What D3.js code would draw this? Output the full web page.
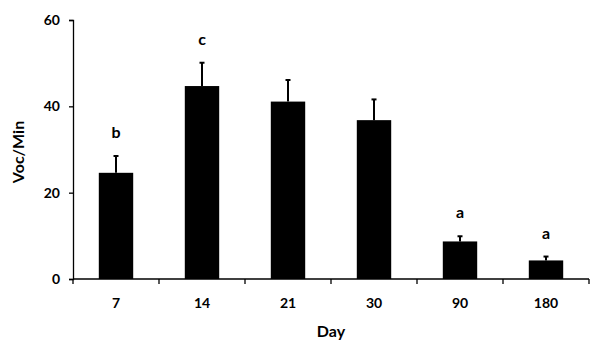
<!DOCTYPE html>
<html>
<head>
<meta charset="utf-8">
<script src="https://cdn.jsdelivr.net/npm/d3@7"></script>
<style>
  body { margin: 0; background: #fff; }
  svg text { font-family: Lato, "Open Sans", sans-serif; font-weight: bold; fill: #000; }
</style>
</head>
<body>
<div id="chart"></div>
<script>
const width = 600;
const height = 348;
const margin = { top: 20, right: 11, bottom: 69, left: 73 };

// Data
const days = ["7", "14", "21", "30", "90", "180"];
const means = [24.6, 44.7, 41.1, 36.8, 8.7, 4.3];
const errors = [3.9, 5.4, 5.0, 4.8, 1.2, 0.9];
const letters = ["b", "c", "", "", "a", "a"];
const yTicks = [0, 20, 40, 60];

const innerW = width - margin.left - margin.right;
const innerH = height - margin.top - margin.bottom;

const svg = d3
  .select("#chart")
  .append("svg")
  .attr("width", width)
  .attr("height", height);

const g = svg.append("g").attr("transform", `translate(${margin.left},${margin.top})`);

const x = d3.scaleBand().domain(days).range([0, innerW]).paddingInner(0.6).paddingOuter(0.3);
const y = d3.scaleLinear().domain([0, 60]).range([innerH, 0]);

// bars
g.selectAll(".bar")
  .data(means)
  .enter()
  .append("rect")
  .attr("class", "bar")
  .attr("x", (d, i) => x(days[i]))
  .attr("y", (d) => y(d))
  .attr("width", x.bandwidth())
  .attr("height", (d) => innerH - y(d))
  .attr("fill", "#000");

// error bars (upper only)
const cx = (i) => x(days[i]) + x.bandwidth() / 2;
g.selectAll(".err")
  .data(means)
  .enter()
  .append("line")
  .attr("x1", (d, i) => cx(i))
  .attr("x2", (d, i) => cx(i))
  .attr("y1", (d) => y(d))
  .attr("y2", (d, i) => y(d + errors[i]))
  .attr("stroke", "#000")
  .attr("stroke-width", 2);

g.selectAll(".cap")
  .data(means)
  .enter()
  .append("line")
  .attr("x1", (d, i) => cx(i) - 2.5)
  .attr("x2", (d, i) => cx(i) + 2.5)
  .attr("y1", (d, i) => y(d + errors[i]))
  .attr("y2", (d, i) => y(d + errors[i]))
  .attr("stroke", "#000")
  .attr("stroke-width", 2);

// significance letters
g.selectAll(".letter")
  .data(means)
  .enter()
  .append("text")
  .attr("x", (d, i) => cx(i))
  .attr("y", (d, i) => y(d + errors[i]) - 18)
  .attr("text-anchor", "middle")
  .style("font-size", "16px")
  .text((d, i) => letters[i]);

// y axis
const yAxis = g.append("g")
  .call(d3.axisLeft(y).tickValues(yTicks).tickSize(4).tickPadding(9));
yAxis.select(".domain").attr("stroke", "#000").attr("stroke-width", 1.3);
yAxis.selectAll(".tick line").attr("stroke", "#000").attr("stroke-width", 1.3);
yAxis.selectAll("text").style("font-size", "14px");

// x axis: ticks at band boundaries, labels centred on bars
const step = x.step();
const xAxisG = g.append("g").attr("transform", `translate(0,${innerH})`);
xAxisG.append("line")
  .attr("x1", 0).attr("x2", innerW)
  .attr("stroke", "#000").attr("stroke-width", 1.3);
xAxisG.selectAll(".xt")
  .data(d3.range(days.length + 1))
  .enter()
  .append("line")
  .attr("x1", (d) => d * step)
  .attr("x2", (d) => d * step)
  .attr("y1", 0).attr("y2", 5)
  .attr("stroke", "#000").attr("stroke-width", 1.3);
xAxisG.selectAll(".xl")
  .data(days)
  .enter()
  .append("text")
  .attr("x", (d) => x(d) + x.bandwidth() / 2)
  .attr("y", 29)
  .attr("text-anchor", "middle")
  .style("font-size", "14px")
  .text((d) => d);

// axis titles
svg.append("text")
  .attr("x", 331)
  .attr("y", 337)
  .attr("text-anchor", "middle")
  .style("font-size", "16px")
  .text("Day");

svg.append("text")
  .attr("transform", "translate(24,152) rotate(-90)")
  .attr("text-anchor", "middle")
  .style("font-size", "16px")
  .text("Voc/Min");
</script>
</body>
</html>
